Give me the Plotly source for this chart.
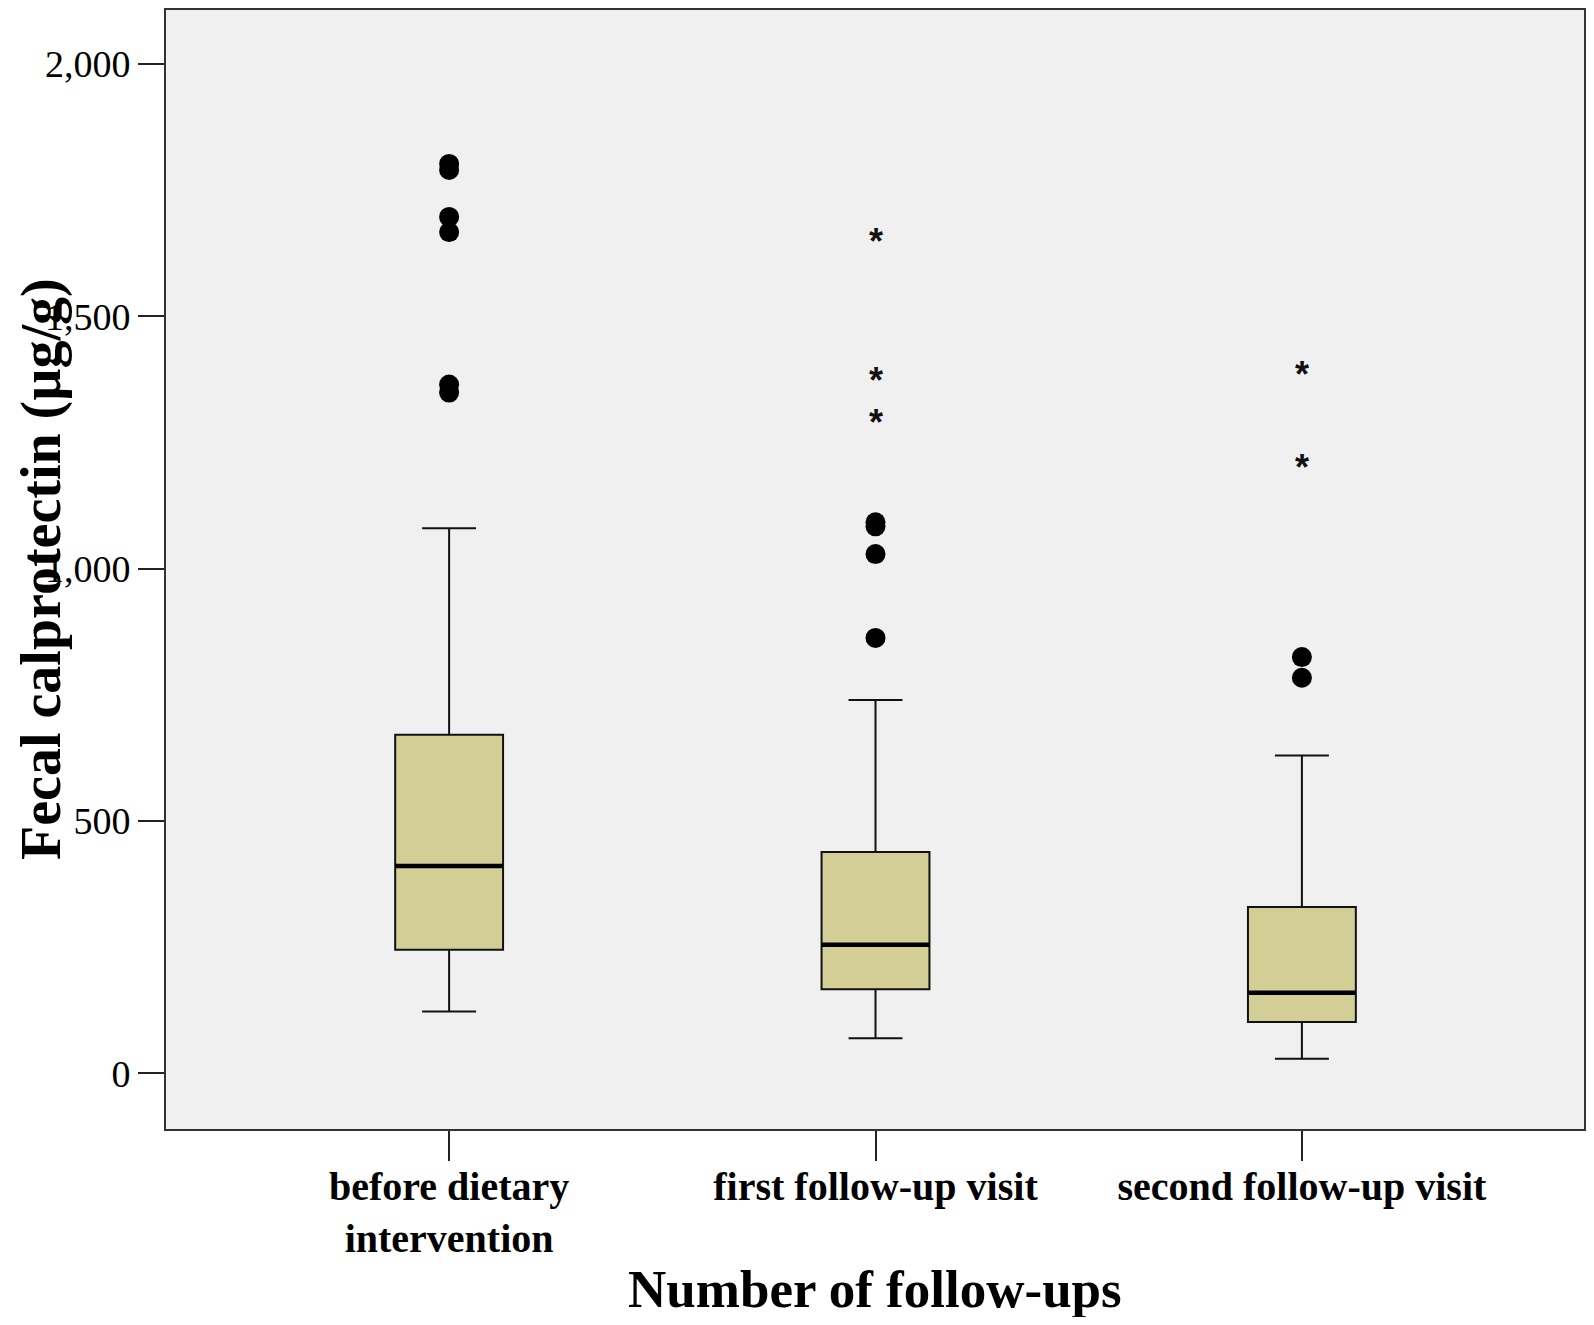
import plotly.graph_objects as go

# ---- data ----
categories = ["before dietary<br>intervention", "first follow-up visit", "second follow-up visit"]
lower_whisker = [123, 70, 29]
q1 = [245, 167, 102]
median = [411, 255, 160]
q3 = [671, 439, 330]
upper_whisker = [1080, 740, 630]

# outliers (circles) and extreme values (asterisks), by group index
circle_group = [0, 0, 0, 0, 0, 0, 1, 1, 1, 1, 2, 2]
circle_value = [1802, 1790, 1697, 1667, 1365, 1349, 1092, 1084, 1029, 863, 825, 784]
star_group = [1, 1, 1, 2, 2]
star_value = [1654, 1378, 1295, 1391, 1207]

y_tick_vals = [0, 500, 1000, 1500, 2000]
y_tick_text = ["0", "500", "1,000", "1,500", "2,000"]

x_title = "Number of follow-ups"
y_title = "Fecal calprotectin (µg/g)"

# ---- styling ----
BOX_W = 0.253
FILL = "#D3CE96"
FONT = "Liberation Serif"

fig = go.Figure()
idx = list(range(len(categories)))
fig.add_trace(go.Box(
    x=idx, q1=q1, median=median, q3=q3,
    lowerfence=lower_whisker, upperfence=upper_whisker,
    width=BOX_W, whiskerwidth=0.5,
    fillcolor=FILL, line=dict(color="#111111", width=2),
    boxpoints=False, showlegend=False, hoverinfo="skip",
))

# thicker median lines
for i, m in enumerate(median):
    fig.add_trace(go.Scatter(
        x=[i - BOX_W / 2, i + BOX_W / 2], y=[m, m], mode="lines",
        line=dict(color="black", width=4.5), showlegend=False, hoverinfo="skip",
    ))

fig.add_trace(go.Scatter(
    x=circle_group, y=circle_value, mode="markers",
    marker=dict(symbol="circle", size=20, color="black"),
    showlegend=False,
))
for g, v in zip(star_group, star_value):
    fig.add_annotation(
        x=g, y=v, text="*", showarrow=False, xanchor="center", yanchor="middle",
        yshift=-3, font=dict(family="Liberation Sans", size=36, color="#111111", weight="bold"),
    )

fig.update_layout(
    width=1578, height=1309,
    margin=dict(l=158, r=0, t=0, b=188),
    paper_bgcolor="white", plot_bgcolor="#F0F0F0",
    font=dict(family=FONT, color="black"),
)
fig.update_xaxes(
    range=[-0.664, 2.6616], tickmode="array", tickvals=idx, ticktext=categories,
    ticks="outside", ticklen=30, tickwidth=2, tickcolor="#222222",
    tickfont=dict(family=FONT, size=40, weight="bold"), ticklabelstandoff=-9,
    showline=True, mirror=True, linecolor="#333333", linewidth=2,
    showgrid=False, zeroline=False,
)
fig.update_yaxes(
    range=[-110, 2107], tickmode="array", tickvals=y_tick_vals, ticktext=y_tick_text,
    ticks="outside", ticklen=26, tickwidth=2, tickcolor="#222222",
    tickfont=dict(family=FONT, size=38),
    showline=True, mirror=True, linecolor="#333333", linewidth=2,
    showgrid=False, zeroline=False,
)
fig.add_annotation(
    text=x_title, xref="paper", yref="paper", x=0.5, y=0, yshift=-160,
    xanchor="center", yanchor="middle", showarrow=False,
    font=dict(family=FONT, size=53, weight="bold"),
)
fig.add_annotation(
    text=y_title, xref="paper", yref="paper", x=0, y=0.5, xshift=-158,
    xanchor="left", yanchor="middle", textangle=-90, showarrow=False,
    font=dict(family=FONT, size=56, weight="bold"),
)

fig.write_html("out.html")
